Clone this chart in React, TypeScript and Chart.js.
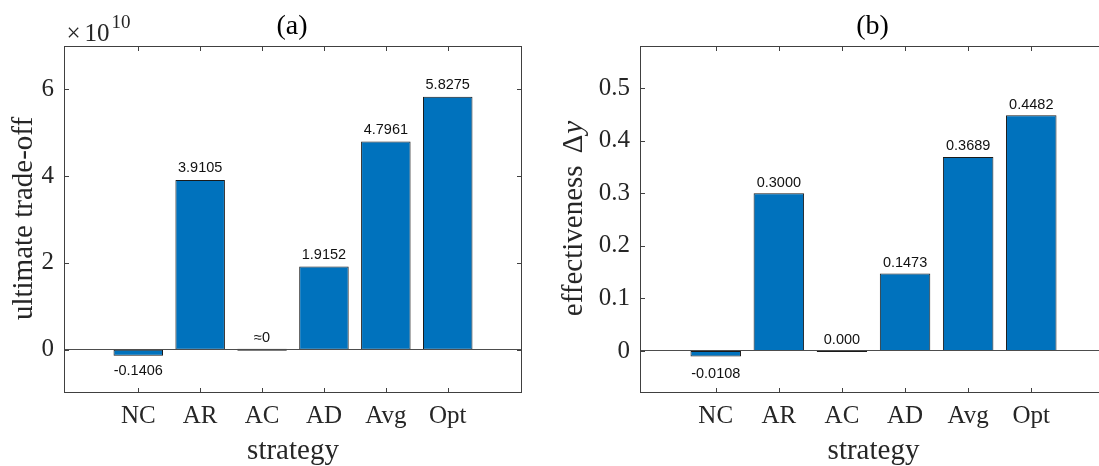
import React, { useEffect, useRef } from 'react';
import { Chart, registerables } from 'chart.js';

Chart.register(...registerables);

// ---------- data ----------
const categories = ['NC', 'AR', 'AC', 'AD', 'Avg', 'Opt'];

// panel (a): ultimate trade-off, in units of 1e10
const tradeoffValues = [-0.1406, 3.9105, 0, 1.9152, 4.7961, 5.8275];
const tradeoffLabels = ['-0.1406', '3.9105', '\u22480', '1.9152', '4.7961', '5.8275'];
const tradeoffTicks = [0, 2, 4, 6];

// panel (b): effectiveness Δy
const effectValues = [-0.0108, 0.3, 0, 0.1473, 0.3689, 0.4482];
const effectLabels = ['-0.0108', '0.3000', '0.000', '0.1473', '0.3689', '0.4482'];
const effectTicks = [0, 0.1, 0.2, 0.3, 0.4, 0.5];

const SERIF = '"Liberation Serif", "Times New Roman", Times, serif';
const SANS = '"Liberation Sans", Arial, Helvetica, sans-serif';
const AXIS_TEXT = '#262626';
const BAR_BLUE = '#0072BD';

type PanelCfg = {
  values: number[];
  labels: string[];
  ticks: number[];
  yMin: number;
  yMax: number;
  yAxisWidth: number;
  padRight: number;
  title: string;
  yTitle: { text: string; italic?: boolean; gapBefore?: number }[];
  yTitleX: number;
  exponent: boolean;
  posGap: number;
  negGap: number;
};

function makeDecor(cfg: PanelCfg) {
  return {
    id: 'decor',
    afterDraw(chart: any) {
      const ctx: CanvasRenderingContext2D = chart.ctx;
      const a = chart.chartArea;
      const xs = chart.scales.x;
      const ys = chart.scales.y;
      ctx.save();

      // baseline at zero
      const y0 = Math.floor(ys.getPixelForValue(0)) + 0.5;
      ctx.lineWidth = 1;
      ctx.strokeStyle = '#4d4d4d';
      ctx.beginPath();
      ctx.moveTo(a.left, y0);
      ctx.lineTo(a.right, y0);
      ctx.stroke();

      // box
      ctx.strokeStyle = '#404040';
      ctx.strokeRect(a.left + 0.5, a.top + 0.5, a.right - a.left - 1, a.bottom - a.top - 1);

      // inward ticks on all four sides
      ctx.beginPath();
      xs.ticks.forEach((t: any) => {
        const px = Math.round(xs.getPixelForValue(t.value)) + 0.5;
        ctx.moveTo(px, a.bottom);
        ctx.lineTo(px, a.bottom - 5);
        ctx.moveTo(px, a.top);
        ctx.lineTo(px, a.top + 5);
      });
      ys.ticks.forEach((t: any) => {
        const py = Math.round(ys.getPixelForValue(t.value)) + 0.5;
        ctx.moveTo(a.left, py);
        ctx.lineTo(a.left + 5, py);
        ctx.moveTo(a.right, py);
        ctx.lineTo(a.right - 5, py);
      });
      ctx.stroke();

      // value labels
      const meta = chart.getDatasetMeta(0);
      ctx.font = `14.5px ${SANS}`;
      ctx.fillStyle = '#111';
      ctx.textAlign = 'center';
      ctx.textBaseline = 'alphabetic';
      cfg.values.forEach((v, i) => {
        const el = meta.data[i];
        const yv = ys.getPixelForValue(v);
        if (v < 0) ctx.fillText(cfg.labels[i], el.x, yv + cfg.negGap + 10.5);
        else ctx.fillText(cfg.labels[i], el.x, yv - cfg.posGap);
      });

      const cx = (a.left + a.right) / 2;
      const cy = (a.top + a.bottom) / 2;

      // title
      ctx.fillStyle = '#000';
      ctx.font = `28px ${SERIF}`;
      ctx.fillText(cfg.title, cx - 1, 34);

      // x axis title
      ctx.fillStyle = AXIS_TEXT;
      ctx.font = `29px ${SERIF}`;
      ctx.fillText('strategy', cx, 459);

      // y axis title (rotated)
      ctx.save();
      ctx.translate(cfg.yTitleX, cy - 1);
      ctx.rotate(-Math.PI / 2);
      ctx.textAlign = 'left';
      let total = 0;
      const widths = cfg.yTitle.map((p) => {
        ctx.font = `${p.italic ? 'italic ' : ''}29px ${SERIF}`;
        const w = ctx.measureText(p.text).width + (p.gapBefore || 0);
        total += w;
        return w;
      });
      let xx = -total / 2;
      cfg.yTitle.forEach((p, i) => {
        ctx.font = `${p.italic ? 'italic ' : ''}29px ${SERIF}`;
        ctx.fillText(p.text, xx + (p.gapBefore || 0), 0);
        xx += widths[i];
      });
      ctx.restore();

      // exponent marker
      if (cfg.exponent) {
        ctx.textAlign = 'left';
        ctx.font = `25px ${SERIF}`;
        const x0 = a.left + 2.5;
        ctx.fillText('\u00d7', x0, 40.5);
        const wx = ctx.measureText('\u00d7').width;
        ctx.fillText('10', x0 + wx + 4, 40.5);
        const w10 = ctx.measureText('10').width;
        ctx.font = `19px ${SERIF}`;
        ctx.fillText('10', x0 + wx + 4 + w10 + 2, 28);
      }
      ctx.restore();
    },
  };
}

function makeConfig(cfg: PanelCfg): any {
  return {
    type: 'bar',
    data: {
      datasets: [
        {
          data: cfg.values.map((v, i) => ({ x: i + 1, y: v })),
          backgroundColor: BAR_BLUE,
          borderColor: '#1a1a1a',
          borderWidth: 1,
          borderSkipped: false,
          barPercentage: 0.8,
          categoryPercentage: 1.0,
          minBarLength: 2,
        },
      ],
    },
    options: {
      responsive: false,
      animation: false,
      devicePixelRatio: 1,
      layout: { padding: { top: 46, right: cfg.padRight, left: 0, bottom: 0 } },
      plugins: { legend: { display: false }, tooltip: { enabled: false }, title: { display: false } },
      scales: {
        x: {
          type: 'linear',
          min: -0.2,
          max: 7.2,
          offset: false,
          grid: { display: false, drawTicks: false, offset: false },
          border: { display: false },
          afterBuildTicks: (scale: any) => {
            scale.ticks = categories.map((_, i) => ({ value: i + 1 }));
          },
          afterFit: (scale: any) => {
            scale.height = 73;
          },
          ticks: {
            autoSkip: false,
            maxRotation: 0,
            minRotation: 0,
            padding: 8,
            color: AXIS_TEXT,
            font: { family: SERIF, size: 25, lineHeight: 1.2 },
            callback: (_v: any, index: number) => categories[index],
          },
        },
        y: {
          type: 'linear',
          min: cfg.yMin,
          max: cfg.yMax,
          grid: { display: false, drawTicks: false },
          border: { display: false },
          afterBuildTicks: (scale: any) => {
            scale.ticks = cfg.ticks.map((v) => ({ value: v }));
          },
          afterFit: (scale: any) => {
            scale.width = cfg.yAxisWidth;
          },
          ticks: {
            padding: 10,
            color: AXIS_TEXT,
            font: { family: SERIF, size: 25, lineHeight: 1.2 },
            callback: (v: any) => String(v),
          },
        },
      },
    },
    plugins: [makeDecor(cfg)],
  };
}

const panelA: PanelCfg = {
  values: tradeoffValues,
  labels: tradeoffLabels,
  ticks: tradeoffTicks,
  yMin: -1,
  yMax: 7,
  yAxisWidth: 64,
  padRight: 28,
  title: '(a)',
  yTitle: [{ text: 'ultimate trade-off' }],
  yTitleX: 32,
  exponent: true,
  posGap: 8,
  negGap: 8.5,
};

const panelB: PanelCfg = {
  values: effectValues,
  labels: effectLabels,
  ticks: effectTicks,
  yMin: -0.08,
  yMax: 0.58,
  yAxisWidth: 90,
  padRight: 3,
  title: '(b)',
  yTitle: [
    { text: 'effectiveness' },
    { text: '\u0394', gapBefore: 12 },
    { text: 'y', italic: true, gapBefore: 1 },
  ],
  yTitleX: 32,
  exponent: false,
  posGap: 6.5,
  negGap: 10.5,
};

function Panel({ cfg, left, width }: { cfg: PanelCfg; left: number; width: number }) {
  const ref = useRef<HTMLCanvasElement | null>(null);
  useEffect(() => {
    if (!ref.current) return;
    const chart = new Chart(ref.current, makeConfig(cfg));
    return () => chart.destroy();
  }, [cfg]);
  return (
    <canvas
      ref={ref}
      width={width}
      height={466}
      style={{ position: 'absolute', left, top: 0, width, height: 466 }}
    />
  );
}

export default function App() {
  return (
    <div
      style={{
        position: 'fixed',
        left: 0,
        top: 0,
        width: 1099,
        height: 466,
        overflow: 'hidden',
        background: '#ffffff',
      }}
    >
      <Panel cfg={panelA} left={0} width={550} />
      <Panel cfg={panelB} left={550} width={560} />
    </div>
  );
}
